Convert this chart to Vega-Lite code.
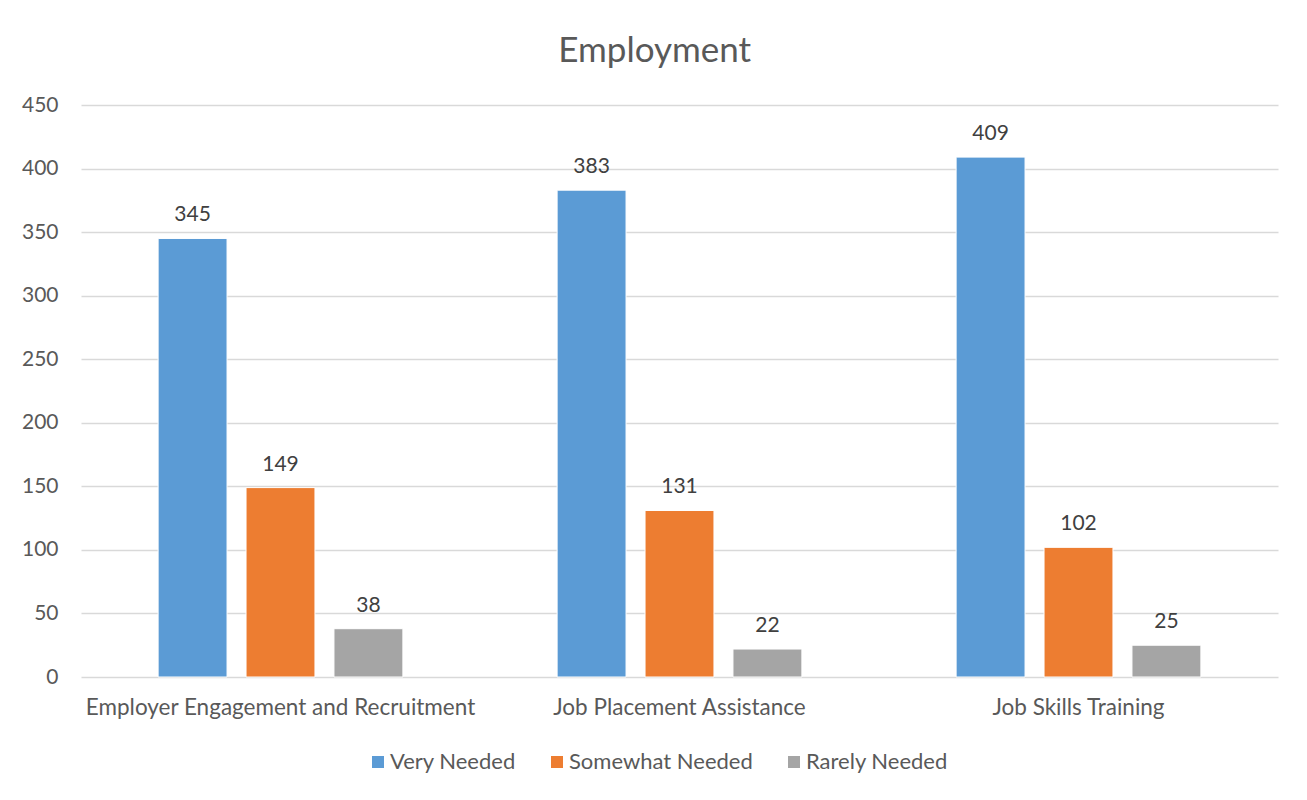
{
  "$schema": "https://vega.github.io/schema/vega-lite/v6.json",
  "width": 1197,
  "height": 572,
  "autosize": {"type": "none"},
  "padding": {"left": 81, "top": 105, "right": 29, "bottom": 123},
  "background": "white",
  "title": {"text": "Employment", "font": "Lato", "fontSize": 35, "fontWeight": "normal", "color": "#595959", "anchor": "middle", "frame": "bounds", "baseline": "alphabetic", "offset": -3, "dx": 5},
  "data": {"values": [
    {"category": "Employer Engagement and Recruitment", "level": "Very Needed", "count": 345},
    {"category": "Employer Engagement and Recruitment", "level": "Somewhat Needed", "count": 149},
    {"category": "Employer Engagement and Recruitment", "level": "Rarely Needed", "count": 38},
    {"category": "Job Placement Assistance", "level": "Very Needed", "count": 383},
    {"category": "Job Placement Assistance", "level": "Somewhat Needed", "count": 131},
    {"category": "Job Placement Assistance", "level": "Rarely Needed", "count": 22},
    {"category": "Job Skills Training", "level": "Very Needed", "count": 409},
    {"category": "Job Skills Training", "level": "Somewhat Needed", "count": 102},
    {"category": "Job Skills Training", "level": "Rarely Needed", "count": 25}
  ]},
  "encoding": {
    "x": {"field": "category", "type": "nominal", "sort": null, "title": null,
      "scale": {"paddingInner": 0, "paddingOuter": 0},
      "axis": {"labelAngle": 0, "labelFont": "Lato", "labelFontSize": 22.5, "labelColor": "#595959", "labelPadding": 19, "labelLimit": 600, "ticks": false, "domain": false, "grid": false}},
    "xOffset": {"field": "level", "type": "nominal", "sort": ["Very Needed", "Somewhat Needed", "Rarely Needed"],
      "scale": {"paddingInner": 0.216, "paddingOuter": 0.877}},
    "y": {"field": "count", "type": "quantitative", "title": null,
      "scale": {"domain": [0, 450], "nice": false},
      "axis": {"values": [0, 50, 100, 150, 200, 250, 300, 350, 400, 450], "labelFont": "Lato", "labelFontSize": 21, "labelColor": "#595959", "labelPadding": 23, "ticks": false, "domain": false, "grid": true, "gridColor": "#d9d9d9", "gridWidth": 1.3}}
  },
  "layer": [
    {
      "mark": {"type": "bar", "stroke": "white", "strokeWidth": 1},
      "encoding": {
        "color": {"field": "level", "type": "nominal", "title": null,
          "scale": {"domain": ["Very Needed", "Somewhat Needed", "Rarely Needed"], "range": ["#5b9bd5", "#ed7d31", "#a5a5a5"]},
          "legend": {"orient": "none", "legendX": 286, "legendY": 646, "direction": "horizontal", "symbolType": "square", "symbolSize": 144, "symbolStrokeWidth": 0, "labelFont": "Lato", "labelFontSize": 22, "labelColor": "#595959", "labelOffset": 1, "columnPadding": 30, "labelLimit": 300}}
      }
    },
    {
      "mark": {"type": "text", "baseline": "alphabetic", "dy": -17, "font": "Lato", "fontSize": 21, "color": "#404040"},
      "encoding": {"text": {"field": "count", "type": "quantitative"}}
    }
  ],
  "config": {"view": {"stroke": null}}
}
